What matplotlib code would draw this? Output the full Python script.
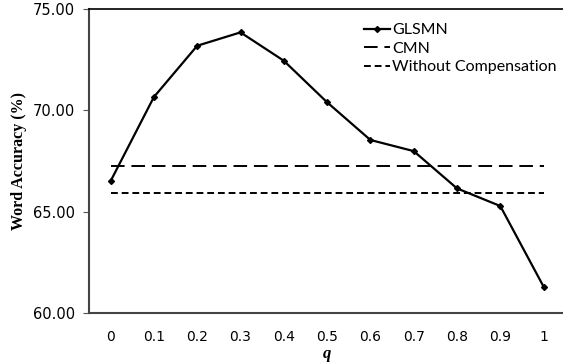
import numpy as np
import matplotlib

matplotlib.use("Agg")
import matplotlib.pyplot as plt

# data
q_labels = ["0", "0.1", "0.2", "0.3", "0.4", "0.5", "0.6", "0.7", "0.8", "0.9", "1"]
glsmn = [66.51, 70.66, 73.19, 73.85, 72.45, 70.40, 68.54, 67.99, 66.15, 65.28, 61.30]
cmn = 67.27
no_comp = 65.94

x = np.arange(len(q_labels))

fig = plt.figure(figsize=(5.63, 3.63), dpi=100)
ax = fig.add_axes([0.158, 0.1377, 0.846, 0.8373])

ax.plot(x, glsmn, color="black", linewidth=1.6, marker="D", markersize=3,
        label="GLSMN")
ax.plot(x, [cmn] * len(x), color="black", linewidth=1.4, dashes=(7, 3.5),
        label="CMN")
ax.plot(x, [no_comp] * len(x), color="black", linewidth=1.4, dashes=(3.5, 2),
        label="Without Compensation")

ax.set_xlim(-0.5, len(x) - 0.5)
ax.set_ylim(60, 75)
ax.set_yticks([60, 65, 70, 75])
ax.set_yticklabels([f"{v:.2f}" for v in [60, 65, 70, 75]], fontsize=10.5,
                   family="DejaVu Sans")
ax.set_xticks(x)
ax.set_xticklabels(q_labels, fontsize=10, family="DejaVu Sans")
ax.tick_params(axis="x", length=0, pad=12)
ax.tick_params(axis="y", length=4, width=0.8, color="#555555", pad=6)

for side in ["left", "bottom"]:
    ax.spines[side].set_color("#444444")
    ax.spines[side].set_linewidth(1.5)
ax.spines["top"].set_linewidth(1.2)
ax.spines["right"].set_visible(False)

ax.set_ylabel("Word Accuracy (%)", family="Liberation Serif", fontweight="bold",
              fontsize=11.5, labelpad=4)
ax.set_xlabel("q", family="Liberation Serif", fontweight="bold",
              style="italic", fontsize=12, labelpad=2)

ax.legend(loc="upper right", bbox_to_anchor=(0.995, 0.975), frameon=False,
          prop={"family": "Lato", "size": 11.5}, handlelength=1.6,
          handletextpad=0.15, labelspacing=0.27, borderaxespad=0)

fig.savefig("out.png", dpi=100)
